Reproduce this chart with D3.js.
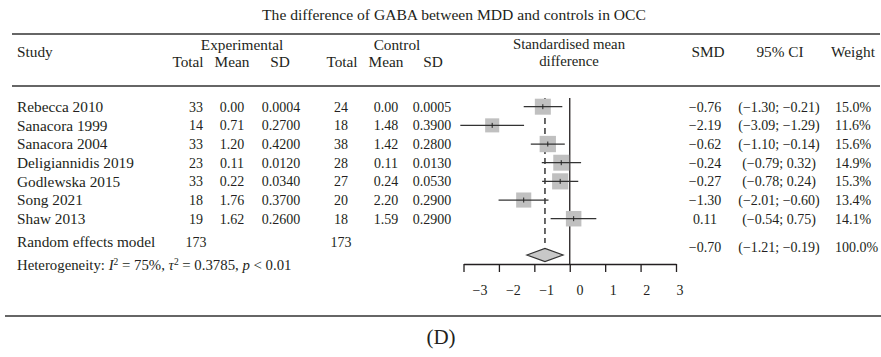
<!DOCTYPE html>
<html>
<head>
<meta charset="utf-8">
<script src="https://cdn.jsdelivr.net/npm/d3@7"></script>
<style>
  body { margin: 0; background: #fff; }
  svg { display: block; font-family: "Liberation Serif", "DejaVu Serif", serif; fill: #231f20; }
</style>
</head>
<body>
<svg id="chart" width="881" height="357"></svg>
<script>
var studies = ["Rebecca 2010", "Sanacora 1999", "Sanacora 2004", "Deligiannidis 2019",
               "Godlewska 2015", "Song 2021", "Shaw 2013"];
var expTotal = [33, 14, 33, 23, 33, 18, 19];
var expMean = ["0.00", "0.71", "1.20", "0.11", "0.22", "1.76", "1.62"];
var expSD = ["0.0004", "0.2700", "0.4200", "0.0120", "0.0340", "0.3700", "0.2600"];
var ctlTotal = [24, 18, 38, 28, 27, 20, 18];
var ctlMean = ["0.00", "1.48", "1.42", "0.11", "0.24", "2.20", "1.59"];
var ctlSD = ["0.0005", "0.3900", "0.2800", "0.0130", "0.0530", "0.2900", "0.2900"];
var smd = [-0.76, -2.19, -0.62, -0.24, -0.27, -1.30, 0.11];
var ciLow = [-1.30, -3.09, -1.10, -0.79, -0.78, -2.01, -0.54];
var ciHigh = [-0.21, -1.29, -0.14, 0.32, 0.24, -0.60, 0.75];
var weight = [15.0, 11.6, 15.6, 14.9, 15.3, 13.4, 14.1];
var pooled = { smd: -0.70, lo: -1.21, hi: -0.19, nExp: 173, nCtl: 173, weight: 100.0 };
var axisTicks = [-3, -2, -1, 0, 1, 2, 3];

var svg = d3.select("#chart");
var ink = "#231f20";
var numSize = "14px", wordSize = "15.3px";

function fmt(v) { return (v < 0 ? "\u2212" : "") + Math.abs(v).toFixed(2); }

var x = d3.scaleLinear().domain([-3, 3]).range([463.5, 676]);
// tick labels in the original sit slightly off their ticks
var xLabel = d3.scaleLinear().domain([-3, 3]).range([480, 680]);
var y = d3.scalePoint().domain(studies).range([106.7, 218.7]);
var box = d3.scaleSqrt().domain([0, 15]).range([0, 16]);

// title and rules
svg.append("text").attr("x", 454).attr("y", 15).attr("dy", "0.35em")
    .attr("text-anchor", "middle").style("font-size", "15.6px")
    .text("The difference of GABA between MDD and controls in OCC");

[[12, 880, 34], [12, 880, 86], [5, 881, 316]].forEach(function(r) {
  svg.append("line").attr("x1", r[0]).attr("x2", r[1]).attr("y1", r[2]).attr("y2", r[2])
      .attr("stroke", "#333").attr("stroke-width", 1.6);
});

// header
var header = [
  ["Study", 17, 52, "start"],
  ["Experimental", 242, 45, "middle"],
  ["Total", 188, 62, "middle"], ["Mean", 232, 62, "middle"], ["SD", 280, 62, "middle"],
  ["Control", 397, 45, "middle"],
  ["Total", 342, 62, "middle"], ["Mean", 386, 62, "middle"], ["SD", 433, 62, "middle"],
  ["Standardised mean", 569, 44, "middle", "14.8px"], ["difference", 569, 61, "middle", "14.8px"],
  ["SMD", 708, 52, "middle"], ["95% CI", 780, 52, "middle"], ["Weight", 853, 52, "middle"]
];
svg.append("g").selectAll("text").data(header).join("text")
    .attr("x", function(d) { return d[1]; })
    .attr("y", function(d) { return d[2]; })
    .attr("dy", "0.35em")
    .attr("text-anchor", function(d) { return d[3]; })
    .style("font-size", function(d) { return d[4] || wordSize; })
    .text(function(d) { return d[0]; });

// study rows
var cols = [
  [studies, 17, "start", wordSize],
  [expTotal, 196, "middle"], [expMean, 232, "middle"], [expSD, 281, "middle"],
  [ctlTotal, 341, "middle"], [ctlMean, 386, "middle"], [ctlSD, 432, "middle"],
  [smd.map(fmt), 705, "middle"],
  [ciLow.map(function(l, i) { return "(" + fmt(l) + "; " + fmt(ciHigh[i]) + ")"; }), 779, "middle"],
  [weight.map(function(w) { return w.toFixed(1) + "%"; }), 835, "start"]
];
cols.forEach(function(c) {
  svg.append("g").selectAll("text").data(c[0]).join("text")
      .attr("x", c[1])
      .attr("y", function(d, i) { return y(studies[i]); })
      .attr("dy", "0.35em")
      .attr("text-anchor", c[2])
      .style("font-size", c[3] || numSize)
      .text(function(d) { return d; });
});

// summary row
var sumRow = [
  ["Random effects model", 17, 242, "start", wordSize],
  [pooled.nExp, 196, 242, "middle"],
  [pooled.nCtl, 341, 242, "middle"],
  [fmt(pooled.smd), 705, 247, "middle"],
  ["(" + fmt(pooled.lo) + "; " + fmt(pooled.hi) + ")", 779, 247, "middle"],
  [pooled.weight.toFixed(1) + "%", 835, 247, "start"]
];
svg.append("g").selectAll("text").data(sumRow).join("text")
    .attr("x", function(d) { return d[1]; })
    .attr("y", function(d) { return d[2]; })
    .attr("dy", "0.35em")
    .attr("text-anchor", function(d) { return d[3]; })
    .style("font-size", function(d) { return d[4] || numSize; })
    .text(function(d) { return d[0]; });

var het = svg.append("text").attr("x", 17).attr("y", 265).attr("dy", "0.35em")
    .style("font-size", "14.8px");
het.append("tspan").text("Heterogeneity: ");
het.append("tspan").style("font-style", "italic").text("I");
het.append("tspan").attr("dy", "-5").style("font-size", "9.5px").text("2");
het.append("tspan").attr("dy", "5").text(" = 75%, ");
het.append("tspan").style("font-style", "italic").text("\u03c4");
het.append("tspan").attr("dy", "-5").style("font-size", "9.5px").text("2");
het.append("tspan").attr("dy", "5").text(" = 0.3785, ");
het.append("tspan").style("font-style", "italic").text("p");
het.append("tspan").text(" < 0.01");

// reference lines
svg.append("line").attr("x1", x(0)).attr("x2", x(0)).attr("y1", 98).attr("y2", 264)
    .attr("stroke", ink).attr("stroke-width", 1.3);
svg.append("line").attr("x1", x(pooled.smd)).attr("x2", x(pooled.smd)).attr("y1", 98).attr("y2", 243)
    .attr("stroke", "#444").attr("stroke-width", 1.6).attr("stroke-dasharray", "6,4");

// study marks
var rows = svg.append("g").selectAll("g").data(studies).join("g")
    .attr("transform", function(d) { return "translate(0," + y(d) + ")"; });
rows.append("rect")
    .attr("x", function(d, i) { return x(smd[i]) - box(weight[i]) / 2; })
    .attr("y", function(d, i) { return -box(weight[i]) / 2; })
    .attr("width", function(d, i) { return box(weight[i]); })
    .attr("height", function(d, i) { return box(weight[i]); })
    .attr("fill", "#c0c0c0");
rows.append("line")
    .attr("x1", function(d, i) { return x(ciLow[i]); })
    .attr("x2", function(d, i) { return x(ciHigh[i]); })
    .attr("stroke", "#333").attr("stroke-width", 1.3);
rows.append("line")
    .attr("x1", function(d, i) { return x(smd[i]); })
    .attr("x2", function(d, i) { return x(smd[i]); })
    .attr("y1", -2.5).attr("y2", 2.5)
    .attr("stroke", "#222").attr("stroke-width", 1);

// pooled diamond
var dy = 255;
svg.append("path")
    .attr("d", "M" + x(pooled.lo) + "," + dy + "L" + x(pooled.smd) + "," + (dy - 6.5) +
               "L" + x(pooled.hi) + "," + dy + "L" + x(pooled.smd) + "," + (dy + 6.5) + "Z")
    .attr("fill", "#c8c8c8").attr("stroke", "#333").attr("stroke-width", 1.2);

// axis
var axis = svg.append("g").attr("transform", "translate(0,264)")
    .call(d3.axisBottom(x).tickValues(axisTicks).tickSize(8).tickSizeOuter(0).tickFormat(""));
axis.select(".domain").attr("stroke", ink).attr("stroke-width", 1.3);
axis.selectAll(".tick line").attr("stroke", ink).attr("stroke-width", 1.3);
svg.append("g").selectAll("text").data(axisTicks).join("text")
    .attr("x", function(d) { return xLabel(d); })
    .attr("y", 290).attr("dy", "0.35em")
    .attr("text-anchor", "middle")
    .style("font-size", "14px")
    .text(function(d) { return (d < 0 ? "\u2212" : "") + Math.abs(d); });

svg.append("text").attr("x", 441).attr("y", 337).attr("dy", "0.35em")
    .attr("text-anchor", "middle").style("font-size", "21px").text("(D)");
</script>
</body>
</html>
